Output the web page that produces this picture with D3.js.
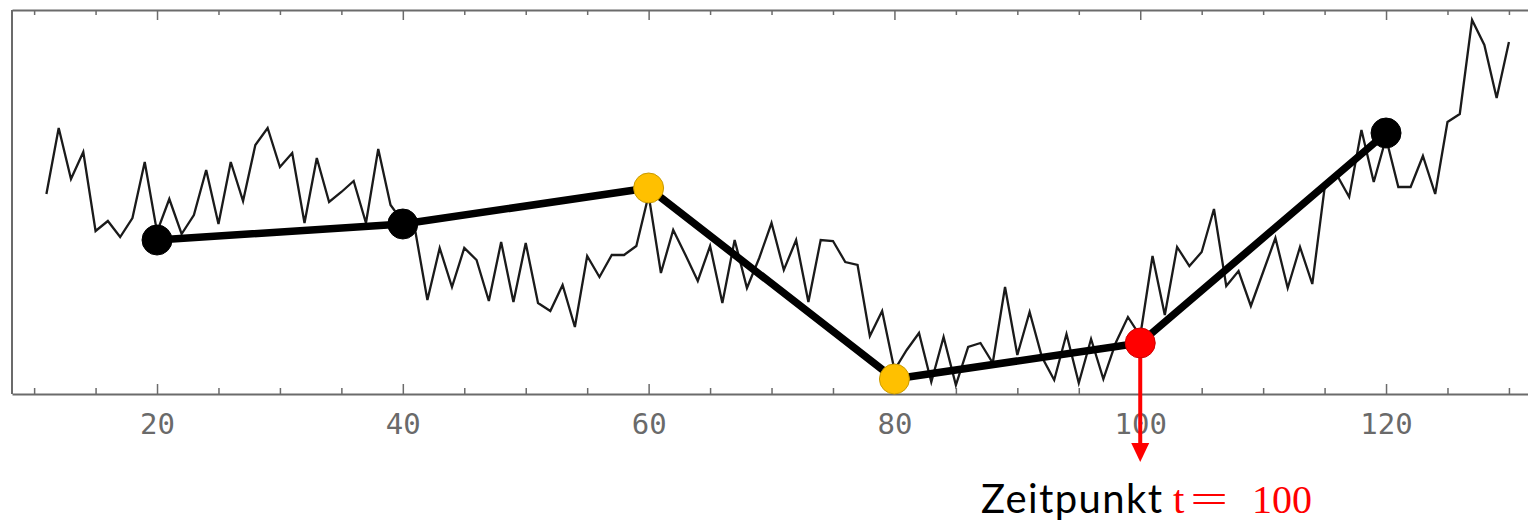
<!DOCTYPE html>
<html>
<head>
<meta charset="utf-8">
<script src="https://cdn.jsdelivr.net/npm/d3@7"></script>
<style>
  html, body { margin: 0; padding: 0; background: #fff; }
  svg { display: block; }
</style>
</head>
<body>
<svg id="chart" width="1528" height="523"></svg>
<script>
// ---- data (y in arbitrary units above the axis) ----
const timeSteps = d3.range(11, 131);
const seriesValues = [
  200, 266, 215, 242, 163, 173, 157, 176, 232, 162,
  195, 160, 179, 224, 170, 232, 193, 249, 266, 227,
  241, 171, 236, 192, 202, 213, 171, 245, 189, 172,
  164, 94, 146, 107, 146, 134, 93, 152, 92, 151,
  91, 83, 109, 67, 138, 117, 139, 139, 148, 199,
  121, 164, 139, 113, 148, 91, 154, 106, 136, 171,
  124, 154, 92, 154, 153, 132, 129, 58, 83, 24,
  44, 61, 12, 57, 9, 47, 51, 31, 107, 39,
  82, 37, 14, 60, 11, 55, 15, 51, 77, 58,
  138, 79, 147, 128, 142, 185, 108, 123, 88, 122,
  156, 106, 147, 110, 206, 219, 197, 264, 212, 256,
  207, 207, 238, 200, 272, 280, 374, 349, 296, 352
];
const keyTimes = [20, 40, 60, 80, 100, 120];
const keyValues = [154, 170, 206, 15, 51, 261];
const keyColors = ["#000000", "#000000", "#FFC000", "#FFC000", "#FF0000", "#000000"];
const tickValues = d3.range(10, 131, 5);
const tickLabels = [20, 40, 60, 80, 100, 120];
const markedTime = 100;
const captionText = "Zeitpunkt";
const captionMath = ["t", "=", "100"];

// ---- scales ----
const svg = d3.select("#chart");
const x = d3.scaleLinear().domain([8.2, 131.6]).range([12, 1528.6]);
const y = d3.scaleLinear().domain([0, 384]).range([394, 10]);

const axisColor = "#6b6b6b";

// frame: left border
svg.append("line")
  .attr("x1", x(8.2)).attr("x2", x(8.2))
  .attr("y1", y(384)).attr("y2", y(0))
  .attr("stroke", axisColor).attr("stroke-width", 2);

// bottom axis (ticks inward)
const bottomAxisG = svg.append("g")
  .attr("transform", `translate(0,${y(0)})`)
  .call(d3.axisBottom(x)
    .tickValues(tickValues)
    .tickSizeInner(-6).tickSizeOuter(0)
    .tickPadding(26)
    .tickFormat(d => tickLabels.includes(d) ? d : ""));
bottomAxisG.select(".domain").attr("stroke", axisColor).attr("stroke-width", 2);
bottomAxisG.selectAll(".tick line").attr("stroke", axisColor).attr("stroke-width", 1.5)
  .attr("y2", d => tickLabels.includes(d) ? -10 : -6);
bottomAxisG.selectAll(".tick text")
  .attr("font-family", "'DejaVu Sans Mono', monospace")
  .attr("font-size", 29).attr("fill", "#6a6a6a")
  .attr("y", 19)
  .attr("dy", "0.71em");

// top axis (ticks inward, no labels)
const topAxisG = svg.append("g")
  .attr("transform", `translate(0,${y(384)})`)
  .call(d3.axisTop(x)
    .tickValues(tickValues)
    .tickSizeInner(-5).tickSizeOuter(0)
    .tickFormat(""));
topAxisG.select(".domain").attr("stroke", axisColor).attr("stroke-width", 2);
topAxisG.selectAll(".tick line").attr("stroke", axisColor).attr("stroke-width", 1.5)
  .attr("y2", d => tickLabels.includes(d) ? 10 : 5);

// noisy series
const series = timeSteps.map((t, i) => ({ t, v: seriesValues[i] }));
svg.append("path")
  .datum(series)
  .attr("fill", "none")
  .attr("stroke", "#1a1a1a")
  .attr("stroke-width", 2.3)
  .attr("stroke-linejoin", "miter")
  .attr("d", d3.line().x(d => x(d.t)).y(d => y(d.v)));

// thick key-point line
const keys = keyTimes.map((t, i) => ({ t, v: keyValues[i], c: keyColors[i] }));
svg.append("path")
  .datum(keys)
  .attr("fill", "none")
  .attr("stroke", "#000")
  .attr("stroke-width", 7.5)
  .attr("stroke-linejoin", "round")
  .attr("d", d3.line().x(d => x(d.t)).y(d => y(d.v)));

// red arrow from the marked point
const marked = keys.find(d => d.t === markedTime);
const ax = x(marked.t);
svg.append("line")
  .attr("x1", ax).attr("x2", ax)
  .attr("y1", y(marked.v)).attr("y2", 445)
  .attr("stroke", "#FF0000").attr("stroke-width", 4);
svg.append("path")
  .attr("d", `M${ax - 9},443 L${ax + 9},443 L${ax},462 Z`)
  .attr("fill", "#FF0000");

// key points
svg.selectAll("circle.key")
  .data(keys)
  .join("circle")
  .attr("class", "key")
  .attr("cx", d => x(d.t))
  .attr("cy", d => y(d.v))
  .attr("r", 15)
  .attr("fill", d => d.c)
  .attr("stroke", d => d.c === "#FFC000" ? "#c99a00" : (d.c === "#FF0000" ? "#d00000" : "#000"))
  .attr("stroke-width", 1);

// caption
svg.append("text")
  .attr("x", 981).attr("y", 513)
  .attr("font-family", "Lato, 'Open Sans', sans-serif")
  .attr("font-size", 40)
  .attr("letter-spacing", 1.4)
  .attr("fill", "#000")
  .text(captionText);
const mathG = svg.append("g")
  .attr("font-family", "'Liberation Serif', 'DejaVu Serif', serif")
  .attr("fill", "#FF0000");
mathG.append("text").attr("x", 1173).attr("y", 513).attr("font-size", 41).text(captionMath[0]);
mathG.append("text").attr("x", 1190).attr("y", 513).attr("font-size", 40)
  .attr("textLength", 38).attr("lengthAdjust", "spacingAndGlyphs").text(captionMath[1]);
mathG.append("text").attr("x", 1252).attr("y", 513).attr("font-size", 41)
  .attr("textLength", 60).attr("lengthAdjust", "spacingAndGlyphs").text(captionMath[2]);
</script>
</body>
</html>
